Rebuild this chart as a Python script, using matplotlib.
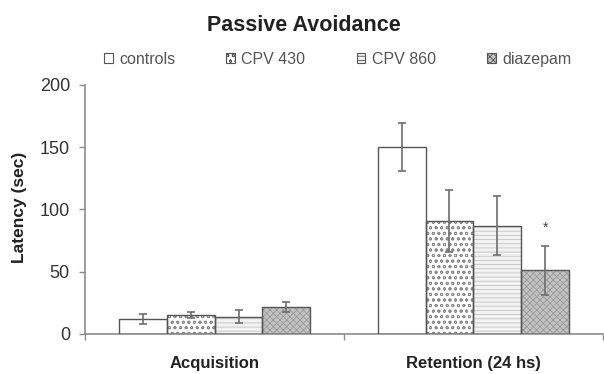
import matplotlib.pyplot as plt
import matplotlib.patches as mpatches
import numpy as np

plt.rcParams["font.family"] = ["Liberation Sans", "DejaVu Sans"]
plt.rcParams["hatch.linewidth"] = 0.6

# data
categories = ["Acquisition", "Retention (24 hs)"]
groups = ["controls", "CPV 430", "CPV 860", "diazepam"]
means = {
    "controls": [12, 150],
    "CPV 430": [15, 91],
    "CPV 860": [14, 87],
    "diazepam": [22, 51],
}
errors = {
    "controls": [4, 19.5],
    "CPV 430": [2.5, 25],
    "CPV 860": [5, 23.5],
    "diazepam": [4, 19.5],
}
star_group = "diazepam"
star_cat = 1

# fill / hatch styles for each group
STYLES = {
    "controls": dict(facecolor="white", hatch=None, hcolor="#555555"),
    "CPV 430": dict(facecolor="white", hatch="ooo", hcolor="#8a8a8a"),
    "CPV 860": dict(facecolor="#f2f2f2", hatch="----", hcolor="#c4c4c4"),
    "diazepam": dict(facecolor="#c2c2c2", hatch="xxxxx", hcolor="#9a9a9a"),
}
AXIS_GRAY = "#8c8c8c"

fig = plt.figure(figsize=(6.04, 3.74), dpi=100, facecolor="white")
ax = fig.add_axes([0.141, 0.107, 0.857, 0.666])

x = np.arange(len(categories))
width = 0.185
offsets = (np.arange(len(groups)) - 1.5) * width

for i, g in enumerate(groups):
    st = STYLES[g]
    ax.bar(x + offsets[i], means[g], width, color=st["facecolor"],
           edgecolor=st["hcolor"], linewidth=0, hatch=st["hatch"], zorder=2)
    # outline drawn separately so the hatch colour can differ
    ax.bar(x + offsets[i], means[g], width, color="none",
           edgecolor="#555555", linewidth=1.0, zorder=3)
    ax.errorbar(x + offsets[i], means[g], yerr=errors[g], fmt="none",
                ecolor="#6e6e6e", elinewidth=1.2, capsize=3, capthick=1.2, zorder=4)

# significance mark
xs = x[star_cat] + offsets[groups.index(star_group)]
ax.text(xs, means[star_group][star_cat] + errors[star_group][star_cat] + 9, "*",
        ha="center", va="bottom", fontsize=10, color="#444444")

ax.set_xlim(-0.5, 1.5)
ax.set_ylim(0, 200)
ax.set_yticks([0, 50, 100, 150, 200])
ax.tick_params(axis="y", labelsize=13, colors=AXIS_GRAY, labelcolor="#333333",
               length=4, width=1, direction="out", pad=7)
ax.set_xticks(x)
ax.set_xticklabels(categories, fontsize=12, fontweight="bold", color="#222222")
ax.tick_params(axis="x", length=0, pad=16)
# category separator ticks
ax.set_xticks([-0.5, 0.5, 1.5], minor=True)
ax.tick_params(axis="x", which="minor", length=4, width=1, colors=AXIS_GRAY, direction="out")

ax.set_ylabel("Latency (sec)", fontsize=12.5, fontweight="bold", color="#222222")
ax.yaxis.set_label_coords(-0.112, 0.51)
for s in ["top", "right"]:
    ax.spines[s].set_visible(False)
for s in ["left", "bottom"]:
    ax.spines[s].set_color(AXIS_GRAY)
    ax.spines[s].set_linewidth(1.2)

handles = []
for g in groups:
    st = STYLES[g]
    handles.append(mpatches.Patch(facecolor=st["facecolor"], edgecolor="#555555",
                                  hatch=st["hatch"], linewidth=0.8, label=g))
fig.legend(handles=handles, loc="center left", bbox_to_anchor=(0.172, 0.842), ncol=4,
           frameon=False, fontsize=11.5, handlelength=0.55, handleheight=0.55,
           handletextpad=0.4, columnspacing=3.2, labelcolor="#555555",
           borderpad=0, borderaxespad=0)

fig.text(0.503, 0.933, "Passive Avoidance", ha="center", va="center",
         fontsize=15.5, fontweight="bold", color="#222222")

fig.savefig("out.png", dpi=100, facecolor="white")
